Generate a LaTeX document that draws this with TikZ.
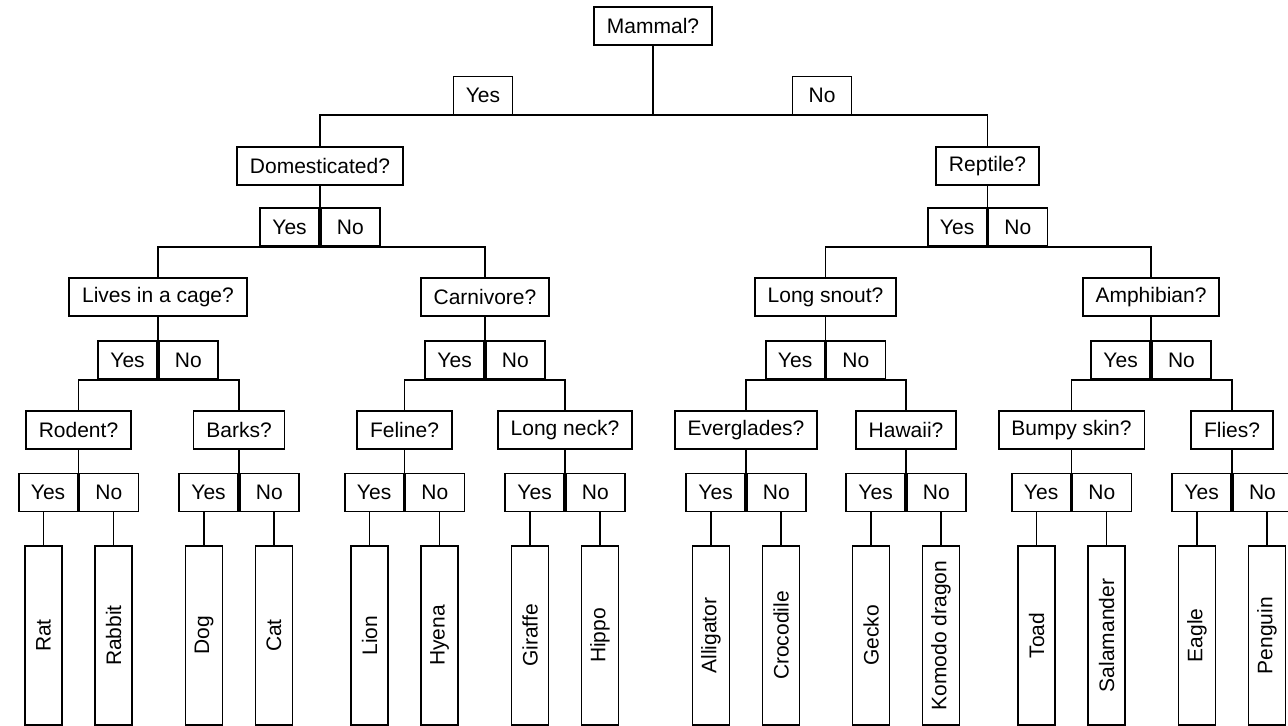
\documentclass[tikz,border=0pt]{standalone}
\usepackage{fontspec}
\usepackage{graphicx}
\setmainfont{Liberation Sans}
\begin{document}
\begin{tikzpicture}[x=0.5pt,y=-0.5pt,
  every node/.style={font=\fontsize{10.5}{12}\selectfont},
  qbox/.style={draw,line width=0.9pt,inner sep=0pt,inner xsep=6.4pt,minimum height=19pt},
  cell/.style={draw,line width=0.9pt,inner sep=0pt,minimum width=29.5pt,minimum height=19pt},
  leaf/.style={draw,line width=0.9pt,inner sep=0pt,minimum width=18.5pt,minimum height=89.5pt},
  link/.style={line width=0.9pt}]
\useasboundingbox (0,0) rectangle (1288,726);
\clip (0,0) rectangle (1288,726);

% Yes/No pair whose dividing edge is centred at (#2,#3)
\newcommand\yesno[3]{%
  \node[cell,anchor=east] (#1y) at (#2,#3) {Yes};
  \node[cell,anchor=west] (#1n) at (#2,#3) {No};}
% two answers hanging below a Yes/No pair
\newcommand\answers[4]{%
  \node[leaf] (#1a) at (#2-35,635.5) {\rotatebox{90}{#3}};
  \node[leaf] (#1b) at (#2+35,635.5) {\rotatebox{90}{#4}};
  \draw[link] (#1a.north) -- (#1a.north |- #1y.south);
  \draw[link] (#1b.north) -- (#1b.north |- #1n.south);}

% level 0
\node[qbox] (mq) at (653,26) {Mammal?};
\node[cell] (my) at (483,95.5) {Yes};
\node[cell] (mn) at (822,95.5) {No};

% level 1
\node[qbox] (dq) at (320,166) {Domesticated?};
\node[qbox] (rq) at (987.5,166) {Reptile?};
\yesno{d}{320}{227}
\yesno{r}{987.5}{227}

% level 2
\node[qbox] (lq) at (158,297) {Lives in a cage?};
\node[qbox] (cq) at (485,297) {Carnivore?};
\node[qbox] (sq) at (825.5,297) {Long snout?};
\node[qbox] (aq) at (1151,297) {Amphibian?};
\yesno{l}{158}{360}
\yesno{c}{485}{360}
\yesno{s}{825.5}{360}
\yesno{a}{1151}{360}

% level 3
\node[qbox] (oq) at (78.5,430) {Rodent?};
\node[qbox] (bq) at (239,430) {Barks?};
\node[qbox] (fq) at (404.5,430) {Feline?};
\node[qbox] (nq) at (565,430) {Long neck?};
\node[qbox] (eq) at (746,430) {Everglades?};
\node[qbox] (hq) at (906,430) {Hawaii?};
\node[qbox] (kq) at (1071.5,430) {Bumpy skin?};
\node[qbox] (iq) at (1232,430) {Flies?};
\yesno{o}{78.5}{492.5}
\yesno{b}{239}{492.5}
\yesno{f}{404.5}{492.5}
\yesno{n}{565}{492.5}
\yesno{e}{746}{492.5}
\yesno{h}{906}{492.5}
\yesno{k}{1071.5}{492.5}
\yesno{i}{1232}{492.5}

% answers
\answers{o}{78.5}{Rat}{Rabbit}
\answers{b}{239}{Dog}{Cat}
\answers{f}{404.5}{Lion}{Hyena}
\answers{n}{565}{Giraffe}{Hippo}
\answers{e}{746}{Alligator}{Crocodile}
\answers{h}{906}{Gecko}{Komodo dragon}
\answers{k}{1071.5}{Toad}{Salamander}
\answers{i}{1232}{Eagle}{Penguin}

% connectors
\draw[link] (mq.south) -- (mq.south |- my.south);
\draw[link] (dq.north) |- (my.south) -- (mn.south) -| (rq.north);

\draw[link] (dq.south) -- (dy.north east);
\draw[link] (rq.south) -- (ry.north east);
\draw[link] (lq.north) |- (dy.south east) -| (cq.north);
\draw[link] (sq.north) |- (ry.south east) -| (aq.north);

\foreach \p/\l/\r in {l/o/b, c/f/n, s/e/h, a/k/i}{
  \draw[link] (\p q.south) -- (\p y.north east);
  \draw[link] (\l q.north) |- (\p y.south east) -| (\r q.north);
}
\foreach \p in {o,b,f,n,e,h,k,i}{
  \draw[link] (\p q.south) -- (\p y.north east);
}
\end{tikzpicture}
\end{document}
